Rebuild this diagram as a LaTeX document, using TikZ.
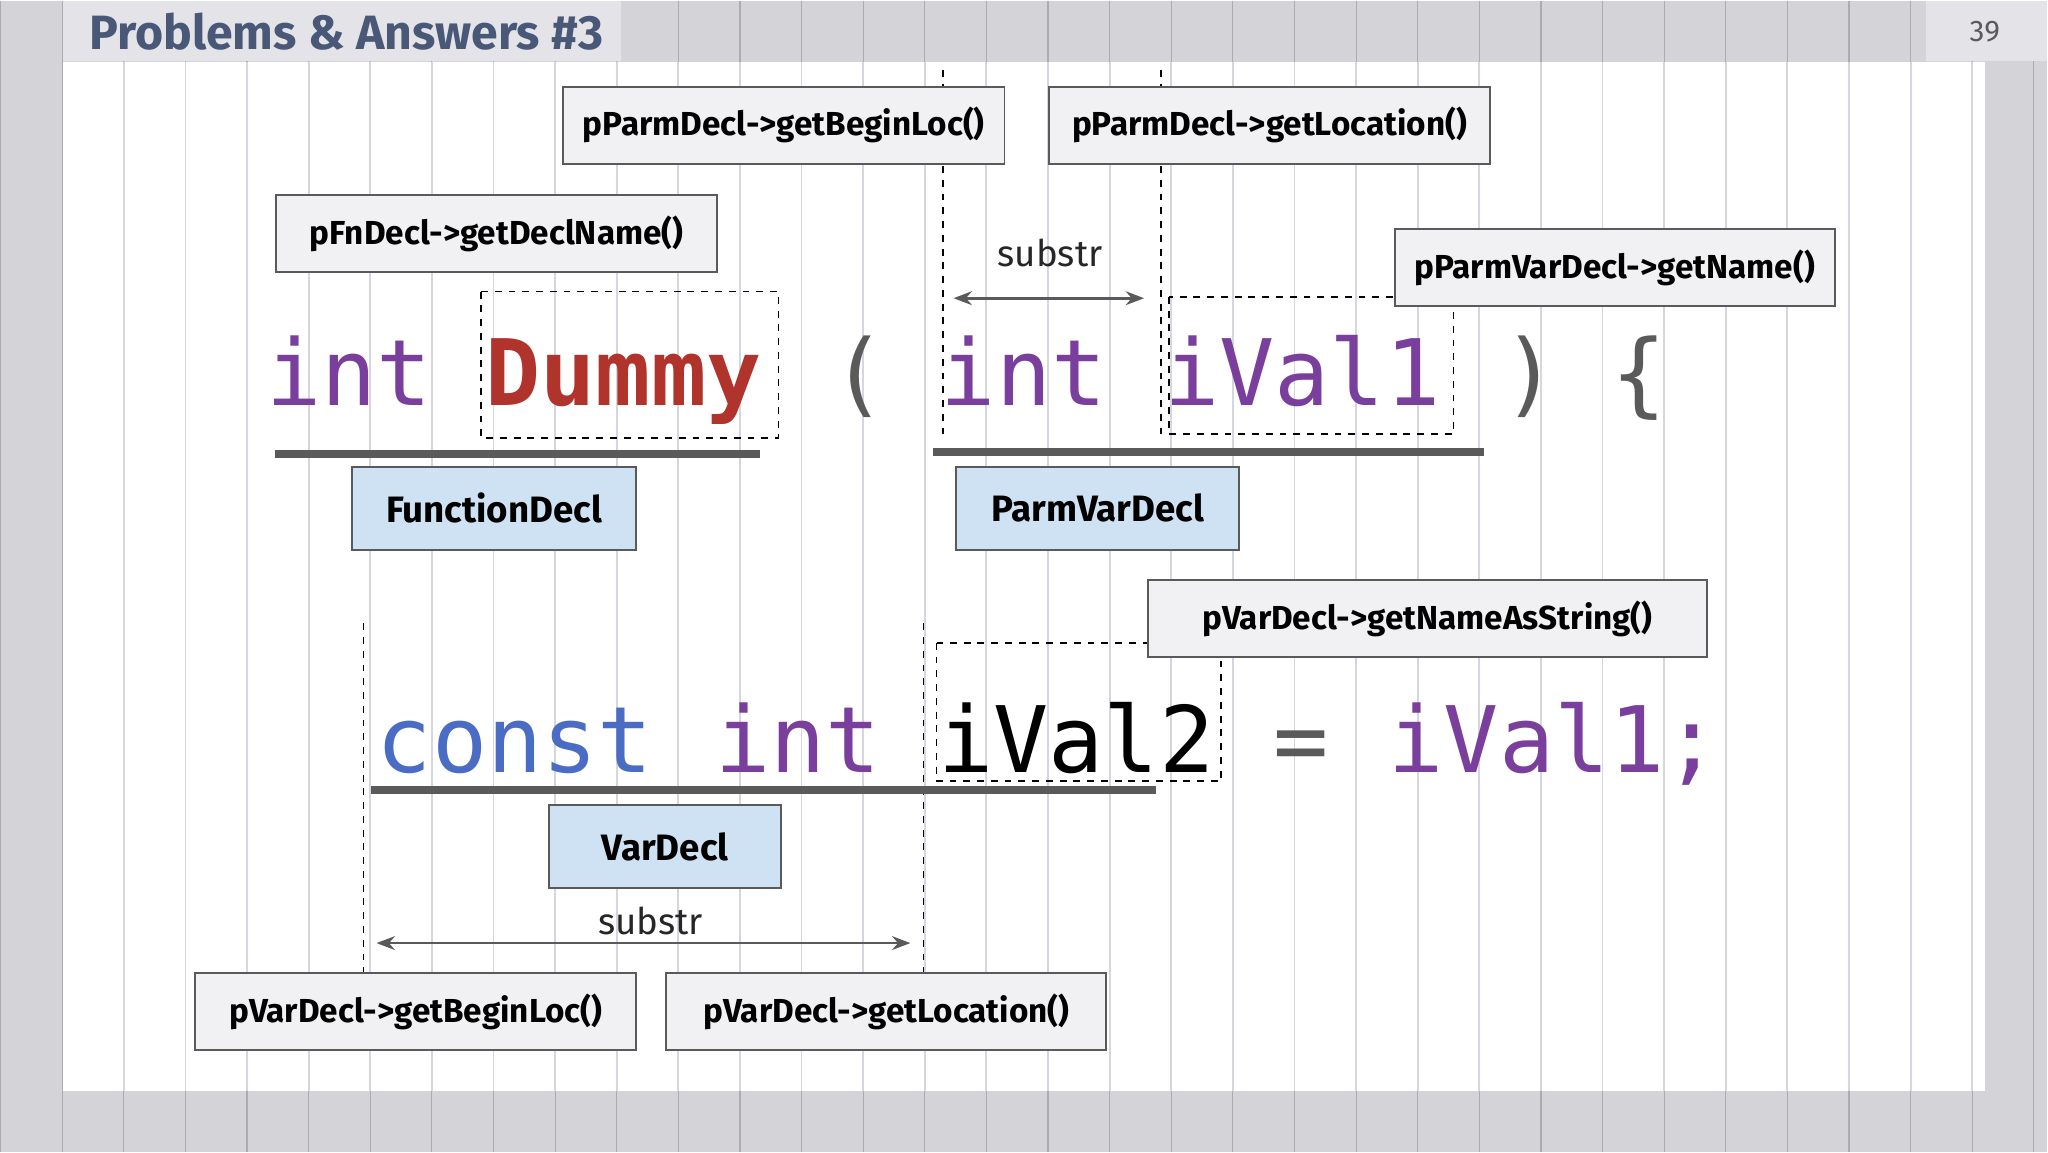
\documentclass[tikz,border=0pt]{standalone}
\usepackage{fontspec}
\setmainfont{Fira Sans}
\newfontfamily\codefont{DejaVu Sans Mono}
\usetikzlibrary{arrows.meta}
\definecolor{gridc}{HTML}{D6D6DE}
\definecolor{outer}{HTML}{D3D3D8}
\definecolor{boxf}{HTML}{F1F1F3}
\definecolor{bluef}{HTML}{CFE2F3}
\definecolor{purp}{HTML}{7A3F9D}
\definecolor{redc}{HTML}{B0332C}
\definecolor{bluec}{HTML}{4A6CC4}
\definecolor{greyc}{HTML}{5A5A5A}
\definecolor{titlec}{HTML}{4A5878}
\begin{document}
\begin{tikzpicture}[x=0.02cm,y=-0.02cm,
 lbl/.style={draw=greyc,fill=boxf,line width=0.8pt,font=\fontsize{14.5}{16}\selectfont\bfseries,inner sep=0pt},
 code/.style={anchor=base west,inner sep=0pt,font=\codefont\fontsize{40}{44}\selectfont},
 ul/.style={line width=3.5pt,greyc},
 dsh/.style={dashed,line width=0.7pt,black},
 arr/.style={{Stealth[length=8pt]}-{Stealth[length=8pt]},line width=1.2pt,greyc}]
\fill[outer] (0,0) rectangle (1568,882);
\draw[gridc!80!black,line width=0.5pt] (0,0) grid[step=47.2] (1568,882);
\fill[white] (48,47) rectangle (1520,835);
\draw[gridc,line width=0.8pt] (48,47) grid[step=47.2] (1520,835);
\fill[outer!60!white] (48,0) rectangle (475,46);
\fill[outer!60!white] (1475,0) rectangle (1568,46);
\node[anchor=west,text=titlec,font=\fontsize{21}{24}\selectfont\bfseries] (title) at (62,24) {Problems \& Answers \#3};
\node[text=greyc,font=\fontsize{13}{15}\selectfont] (pg) at (1520,24) {39};
% vertical dashed guides
\coordinate (v1t) at (722,53); \coordinate (v1b) at (722,335);
\coordinate (v2t) at (889,53); \coordinate (v2b) at (889,332);
\coordinate (v3t) at (278,477); \coordinate (v3b) at (278,745);
\coordinate (v4t) at (707,477); \coordinate (v4b) at (707,745);
\draw[dsh] (v1t)--(v1b); \draw[dsh] (v2t)--(v2b);
\draw[dsh] (v3t)--(v3b); \draw[dsh] (v4t)--(v4b);
% dashed rectangles
\draw[dsh] (368,223) rectangle (596,335);
\draw[dsh] (895,227) rectangle (1113,332);
\draw[dsh] (717,492) rectangle (935,598);
% boxes
\node[lbl,minimum width=338*0.02cm,minimum height=59*0.02cm] (pb) at (600,95.5) {pParmDecl->getBeginLoc()};
\node[lbl,minimum width=338*0.02cm,minimum height=59*0.02cm] (pl) at (972,95.5) {pParmDecl->getLocation()};
\node[lbl,minimum width=338*0.02cm,minimum height=59*0.02cm] (fn) at (380,178.5) {pFnDecl->getDeclName()};
\node[lbl,minimum width=337*0.02cm,minimum height=59*0.02cm] (pn) at (1236.5,204.5) {pParmVarDecl->getName()};
\node[lbl,fill=bluef,minimum width=218*0.02cm,minimum height=64*0.02cm,font=\fontsize{16}{18}\selectfont\bfseries] (fd) at (378,389) {FunctionDecl};
\node[lbl,fill=bluef,minimum width=217*0.02cm,minimum height=64*0.02cm,font=\fontsize{16}{18}\selectfont\bfseries] (pvd) at (840.5,389) {ParmVarDecl};
\node[lbl,minimum width=428*0.02cm,minimum height=59*0.02cm] (vn) at (1093,473.5) {pVarDecl->getNameAsString()};
\node[lbl,fill=bluef,minimum width=178*0.02cm,minimum height=64*0.02cm,font=\fontsize{16}{18}\selectfont\bfseries] (vd) at (509,648) {VarDecl};
\node[lbl,minimum width=338*0.02cm,minimum height=59*0.02cm] (vb) at (318,774.5) {pVarDecl->getBeginLoc()};
\node[lbl,minimum width=337*0.02cm,minimum height=59*0.02cm] (vl) at (678.5,774.5) {pVarDecl->getLocation()};
% code line 1
\node[code,text=purp] (c1) at (203,310) {int};
\node[code,text=redc,font=\codefont\bfseries\fontsize{40}{44}\selectfont] (c2) at (371,310) {Dummy};
\node[code,text=greyc] (c3) at (636,310) {(};
\node[code,text=purp] (c4) at (720,310) {int};
\node[code,text=purp] (c5) at (891,310) {iVal1};
\node[code,text=greyc] (c6) at (1150,310) {)};
\node[code,text=greyc] (c7) at (1234,310) {\{};
% code line 2
\node[code,text=bluec] (d1) at (288,591) {const};
\node[code,text=purp] (d2) at (547,591) {int};
\node[code,text=black] (d3) at (718,591) {iVal2};
\node[code,text=greyc] (d4) at (975,591) {=};
\node[code,text=purp] (d5) at (1063,591) {iVal1;};
% underlines
\draw[ul] (210,347)--(582,347);
\draw[ul] (714,346)--(1136,346);
\draw[ul] (284,605)--(885,605);
% substr arrows
\coordinate (a1) at (730,228); \coordinate (a2) at (876,228);
\draw[arr] (a1)--(a2);
\node[font=\fontsize{16}{18}\selectfont,text=black!85] (s1) at (804,193) {substr};
\coordinate (b1) at (288,722); \coordinate (b2) at (697,722);
\draw[arr] (b1)--(b2);
\node[font=\fontsize{16}{18}\selectfont,text=black!85] (s2) at (498,705) {substr};
\end{tikzpicture}
\end{document}
